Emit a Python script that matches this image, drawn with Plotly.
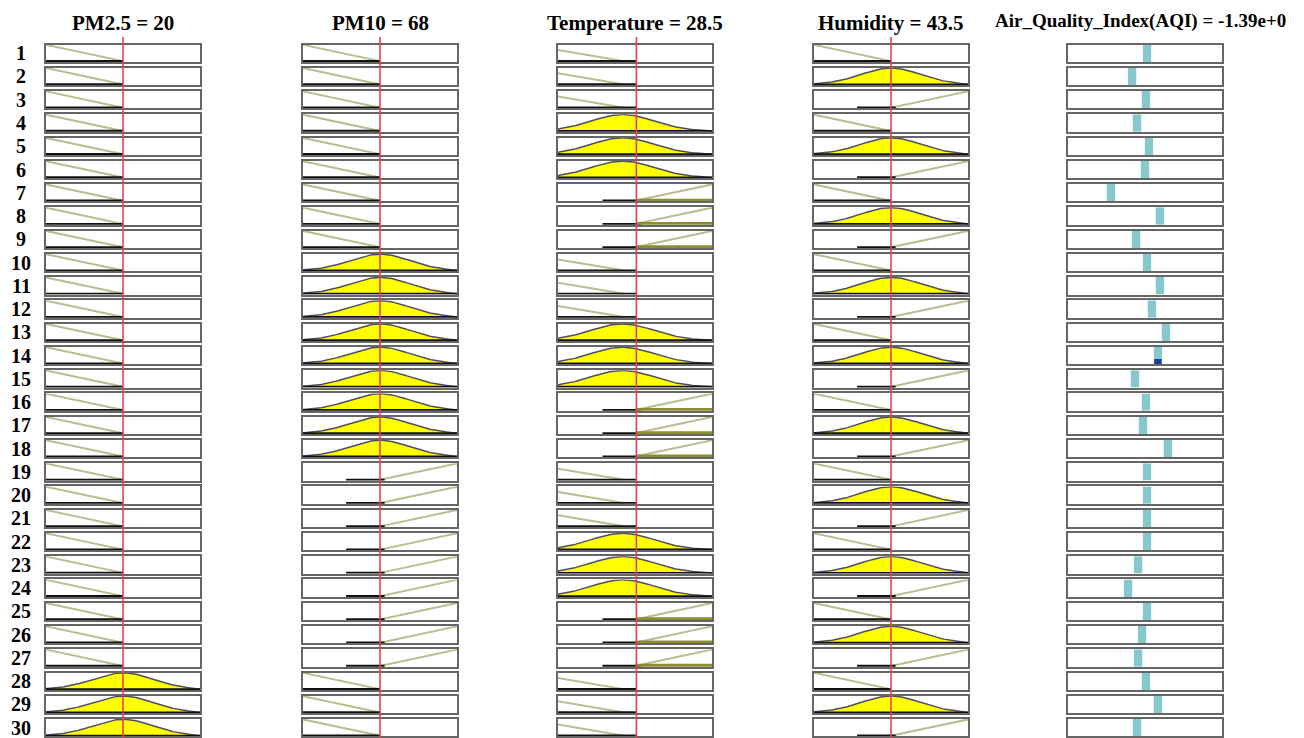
import numpy as np
import plotly.graph_objects as go

# ---------------- data ----------------
input_names = ["PM2.5", "PM10", "Temperature", "Humidity"]
input_values = [20, 68, 28.5, 43.5]
input_value_text = ["20", "68", "28.5", "43.5"]
input_ranges = [[0, 40], [0, 136], [0, 56], [0, 87]]
output_name = "Air_Quality_Index(AQI)"
output_value_text = "-1.39e+0"
output_range = [0, 100]

# membership function parameters (per input)
mf_low = [[0, 1.0, 20], [0, 1.0, 68], [0, 0.68, 24], [0, 1.0, 43.5]]   # x_start, mu_start, x_zero
mf_med = [[20, 7.8], [68, 26.5], [23.5, 11.5], [43.5, 17.0]]           # gaussian centre, sigma
mf_high = [[20, 40], [68, 136], [28, 56], [43.5, 87]]                   # x_zero, x_one

rule_numbers = list(range(1, 31))
pm25_terms = ["low", "low", "low", "low", "low", "low", "low", "low", "low", "low",
              "low", "low", "low", "low", "low", "low", "low", "low", "low", "low",
              "low", "low", "low", "low", "low", "low", "low", "med", "med", "med"]
pm10_terms = ["low", "low", "low", "low", "low", "low", "low", "low", "low", "med",
              "med", "med", "med", "med", "med", "med", "med", "med", "high", "high",
              "high", "high", "high", "high", "high", "high", "high", "low", "low", "low"]
temp_terms = ["low", "low", "low", "med", "med", "med", "high", "high", "high", "low",
              "low", "low", "med", "med", "med", "high", "high", "high", "low", "low",
              "low", "med", "med", "med", "high", "high", "high", "low", "low", "low"]
hum_terms = ["low", "med", "high", "low", "med", "high", "low", "med", "high", "low",
             "med", "high", "low", "med", "high", "low", "med", "high", "low", "med",
             "high", "low", "med", "high", "low", "med", "high", "low", "med", "high"]
terms = [pm25_terms, pm10_terms, temp_terms, hum_terms]

aqi_rule_outputs = [51.3, 41.6, 50.6, 44.8, 52.6, 50.0, 27.9, 59.7, 44.2, 51.3,
                    59.7, 54.5, 63.6, 58.4, 43.5, 50.6, 48.7, 64.9, 51.3, 51.3,
                    51.3, 51.3, 45.5, 39.0, 51.3, 48.1, 45.5, 50.6, 58.4, 44.8]
aqi_rule_strength = [1.0] * 30
aqi_dark_part = {14: 0.3}

# ---------------- geometry / style ----------------
W, H = 1304, 738
col_left = [46, 303, 558, 814, 1068]
box_w = 154
row_top0 = 44.5
row_step = 23.26
box_h = 17.4

YELLOW = "#ffff00"
MF_EDGE = "#4d4d66"
OLIVE = "#bcbc92"
OLIVE_DARK = "#8c8c2e"
BLACK = "#111111"
TEAL = "#86c8cc"
RED = "#ec3d52"
FONT = "Liberation Serif"

fig = go.Figure()
layout_axes = {}


def ax_names(k):
    return ("x" if k == 1 else f"x{k}"), ("y" if k == 1 else f"y{k}")


for r in range(30):
    top = row_top0 + r * row_step
    for c in range(5):
        k = r * 5 + c + 1
        xa, ya = ax_names(k)
        left = col_left[c]
        xr = input_ranges[c] if c < 4 else output_range
        yr = [-0.045, 1.02] if c < 4 else [0, 1]
        common = dict(showline=True, mirror=True, linecolor="#666666", linewidth=1.8,
                      showgrid=False, zeroline=False, showticklabels=False, ticks="",
                      fixedrange=True)
        layout_axes["xaxis" if k == 1 else f"xaxis{k}"] = dict(
            domain=[left / W, (left + box_w) / W], range=xr, anchor=ya, **common)
        layout_axes["yaxis" if k == 1 else f"yaxis{k}"] = dict(
            domain=[1 - (top + box_h) / H, 1 - top / H], range=yr, anchor=xa, **common)

        if c < 4:
            lo, hi = input_ranges[c]
            span = hi - lo
            val = input_values[c]
            term = terms[c][r]
            if term == "med":
                cen, sig = mf_med[c]
                xs = np.linspace(lo, hi, 121)
                mu = np.exp(-((xs - cen) ** 2) / (2 * sig ** 2))
                fig.add_trace(go.Scatter(
                    x=np.concatenate([[lo], xs, [hi]]), y=np.concatenate([[0], mu, [0]]),
                    mode="lines", fill="toself", fillcolor=YELLOW,
                    line=dict(color=MF_EDGE, width=1.5), xaxis=xa, yaxis=ya,
                    hoverinfo="skip"))
                fig.add_trace(go.Scatter(x=[lo, hi], y=[0, 0], mode="lines",
                                         line=dict(color=BLACK, width=2),
                                         xaxis=xa, yaxis=ya, hoverinfo="skip"))
            elif term == "low":
                x0, m0, xz = mf_low[c]
                fig.add_trace(go.Scatter(x=[x0, xz], y=[m0, 0], mode="lines",
                                         line=dict(color=OLIVE, width=2),
                                         xaxis=xa, yaxis=ya, hoverinfo="skip"))
                fig.add_trace(go.Scatter(x=[lo, val], y=[0, 0], mode="lines",
                                         line=dict(color=BLACK, width=2.2),
                                         xaxis=xa, yaxis=ya, hoverinfo="skip"))
            else:
                xz, x1 = mf_high[c]
                fig.add_trace(go.Scatter(x=[xz, x1], y=[0, 1], mode="lines",
                                         line=dict(color=OLIVE, width=2),
                                         xaxis=xa, yaxis=ya, hoverinfo="skip"))
                fig.add_trace(go.Scatter(x=[val - 0.22 * span, val + 0.03 * span], y=[0, 0],
                                         mode="lines", line=dict(color=BLACK, width=2.2),
                                         xaxis=xa, yaxis=ya, hoverinfo="skip"))
                if val > xz:
                    fig.add_trace(go.Scatter(x=[val, hi], y=[0.02, 0.02], mode="lines",
                                             line=dict(color=OLIVE_DARK, width=3.5),
                                             xaxis=xa, yaxis=ya, hoverinfo="skip"))
        else:
            fig.add_trace(go.Bar(x=[aqi_rule_outputs[r]], y=[aqi_rule_strength[r]],
                                 width=5.4, marker=dict(color=TEAL, line=dict(width=0)),
                                 xaxis=xa, yaxis=ya, hoverinfo="skip"))
            if (r + 1) in aqi_dark_part:
                fig.add_trace(go.Bar(x=[aqi_rule_outputs[r]], y=[aqi_dark_part[r + 1]],
                                     width=4.8, marker=dict(color="#1f3c9c", line=dict(width=0)),
                                     xaxis=xa, yaxis=ya, hoverinfo="skip"))

# red vertical lines for input values
shapes = []
for c in range(4):
    xa, _ = ax_names(c + 1)
    shapes.append(dict(type="line", xref=xa, yref="paper", x0=input_values[c], x1=input_values[c],
                       y0=0, y1=1 - 37 / H, line=dict(color=RED, width=1.6), layer="above"))

annotations = []
for c in range(4):
    xa, _ = ax_names(c + 1)
    annotations.append(dict(text=f"<b>{input_names[c]} = {input_value_text[c]}</b>",
                            xref=f"{xa} domain", x=0.5, yref="paper", y=1 - 23 / H,
                            xanchor="center", yanchor="middle", showarrow=False,
                            font=dict(family=FONT, size=21, color="black")))
annotations.append(dict(text=f"<b>{output_name} = {output_value_text}</b>",
                        xref="paper", x=1140 / W, yref="paper", y=1 - 21 / H,
                        xanchor="center", yanchor="middle", showarrow=False,
                        font=dict(family=FONT, size=19, color="black")))
for r in range(30):
    _, ya = ax_names(r * 5 + 1)
    annotations.append(dict(text=f"<b>{rule_numbers[r]}</b>", xref="paper", x=21 / W,
                            yref=f"{ya} domain", y=0.5, xanchor="center", yanchor="middle",
                            showarrow=False, font=dict(family=FONT, size=20, color="black")))

fig.update_layout(width=W, height=H, margin=dict(l=0, r=0, t=0, b=0),
                  paper_bgcolor="white", plot_bgcolor="white", showlegend=False,
                  barmode="overlay", shapes=shapes, annotations=annotations, **layout_axes)

fig.write_html("out.html", config={"displayModeBar": False},
               post_script="document.body.style.margin='0px';"
                           "document.body.style.overflow='hidden';")
